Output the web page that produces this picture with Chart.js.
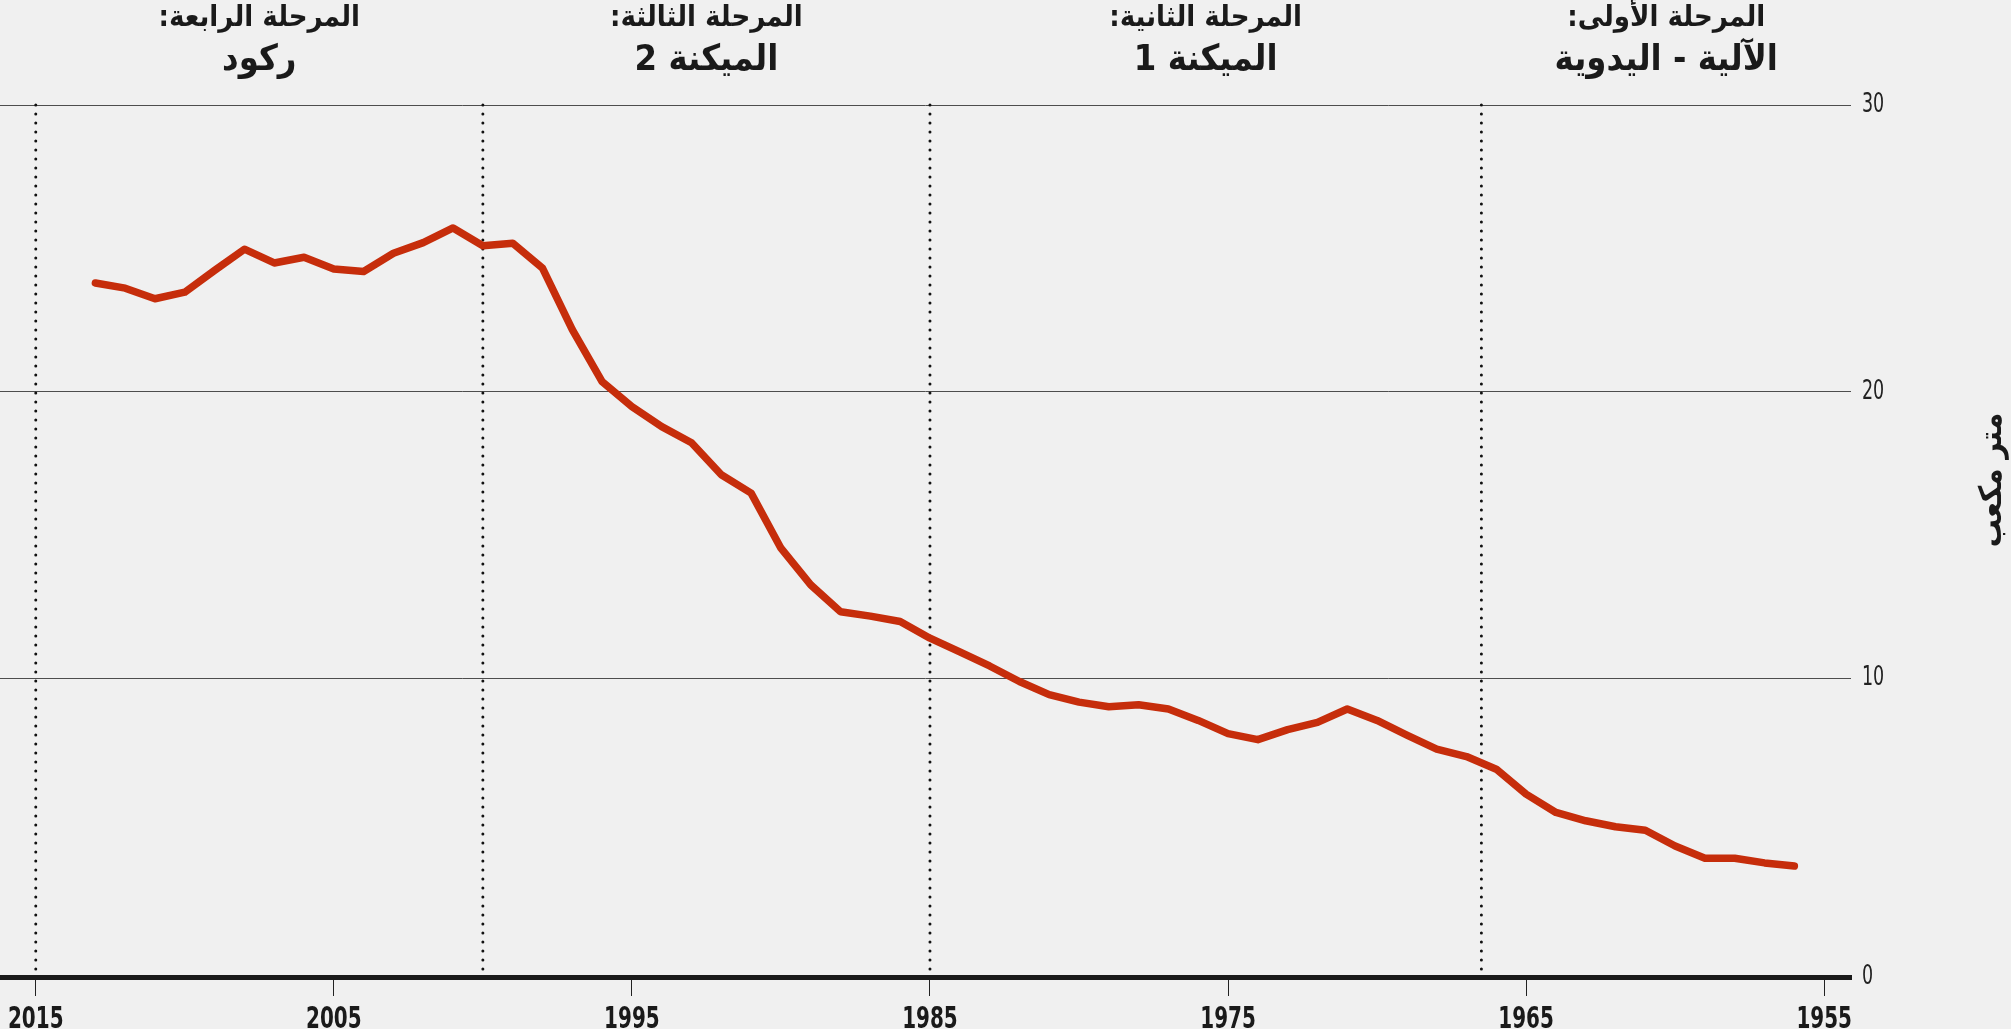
<!DOCTYPE html>
<html lang="ar">
<head>
<meta charset="utf-8">
<script src="https://cdn.jsdelivr.net/npm/chart.js@4.4.1/dist/chart.umd.min.js"></script>
<style>
html,body{margin:0;padding:0;background:#f0f0f0;}
#wrap{width:2011px;height:1029px;position:relative;}
canvas{display:block;}
</style>
</head>
<body>
<div id="wrap"><canvas id="c" width="2011" height="1029"></canvas></div>
<script>
// ---- data ----
const years = [1956,1957,1958,1959,1960,1961,1962,1963,1964,1965,1966,1967,1968,1969,1970,1971,1972,1973,1974,1975,1976,1977,1978,1979,1980,1981,1982,1983,1984,1985,1986,1987,1988,1989,1990,1991,1992,1993,1994,1995,1996,1997,1998,1999,2000,2001,2002,2003,2004,2005,2006,2007,2008,2009,2010,2011,2012,2013];
const values = [3.45,3.56,3.72,3.72,4.15,4.70,4.82,5.03,5.32,5.96,6.83,7.27,7.53,8.02,8.53,8.93,8.46,8.21,7.86,8.07,8.53,8.93,9.08,9.01,9.17,9.43,9.89,10.43,10.92,11.40,11.98,12.17,12.32,13.26,14.54,16.46,17.10,18.22,18.78,19.48,20.35,22.16,24.31,25.18,25.09,25.71,25.20,24.83,24.19,24.28,24.69,24.49,24.97,24.23,23.47,23.24,23.61,23.79];
const xTickValues = [2015, 2005, 1995, 1985, 1975, 1965, 1955];
const yTickValues = [0, 10, 20, 30];
const phaseBounds = [2015, 2000, 1985, 1966.5];
const phaseTitles = ['المرحلة الرابعة:', 'المرحلة الثالثة:', 'المرحلة الثانية:', 'المرحلة الأولى:'];
const phaseNames = ['ركود', 'الميكنة 2', 'الميكنة 1', 'الآلية - اليدوية'];
const yTitle = 'متر مكعب';

// ---- axis ranges ----
const X_MIN = 1954.1, X_MAX = 2016.2;
const Y_MIN = -0.42, Y_MAX = 30;

const BG = '#f0f0f0';
const LINE = '#c62d0b';
const NUM_FONT = '"DejaVu Sans Condensed", "DejaVu Sans", sans-serif';
const AR_FONT = '"DejaVu Sans Condensed", "DejaVu Sans", sans-serif';

const datasets = [{
  label: 'main',
  data: years.map((y, i) => ({x: y, y: values[i]})),
  borderColor: LINE,
  borderWidth: 7.5,
  borderCapStyle: 'round',
  borderJoinStyle: 'round',
  pointRadius: 0,
  tension: 0,
  fill: false,
  order: 0
}];
phaseBounds.forEach(b => {
  datasets.push({
    label: 'bound',
    data: [{x: b, y: Y_MAX}, {x: b, y: Y_MIN}],
    borderColor: '#111',
    borderWidth: 3,
    borderDash: [0, 9],
    borderCapStyle: 'round',
    pointRadius: 0,
    fill: false,
    clip: false,
    order: 1
  });
});

function condensedText(ctx, text, x, y, sx) {
  ctx.save();
  ctx.translate(x, y);
  ctx.scale(sx, 1);
  ctx.fillText(text, 0, 0);
  ctx.restore();
}

const bgPlugin = {
  id: 'bg',
  beforeDraw(chart) {
    const ctx = chart.ctx;
    ctx.save();
    ctx.fillStyle = BG;
    ctx.fillRect(0, 0, chart.width, chart.height);
    ctx.restore();
  }
};

const textPlugin = {
  id: 'texts',
  afterDraw(chart) {
    const ctx = chart.ctx;
    const xs = chart.scales.x;
    const ys = chart.scales.y;
    ctx.save();
    // x tick labels (condensed bold)
    ctx.fillStyle = '#1a1a1a';
    ctx.direction = 'ltr';
    ctx.textAlign = 'center';
    ctx.textBaseline = 'alphabetic';
    ctx.font = 'bold 30px ' + NUM_FONT;
    xs.ticks.forEach(t => {
      condensedText(ctx, String(t.value), xs.getPixelForValue(t.value), 1028, 0.74);
    });
    // y tick labels (condensed regular)
    ctx.fillStyle = '#222';
    ctx.textAlign = 'left';
    ctx.textBaseline = 'middle';
    ctx.font = '27px ' + NUM_FONT;
    ys.ticks.forEach(t => {
      const lbl = t.value === Y_MIN ? '0' : String(t.value);
      condensedText(ctx, lbl, chart.chartArea.right + 11, ys.getPixelForValue(t.value), 0.72);
    });
    // phase labels
    const edges = phaseBounds.map(v => xs.getPixelForValue(v)).concat([chart.chartArea.right]);
    ctx.fillStyle = '#1a1a1a';
    ctx.textAlign = 'center';
    ctx.textBaseline = 'middle';
    ctx.direction = 'rtl';
    for (let i = 0; i < phaseTitles.length; i++) {
      const cx = (edges[i] + edges[i + 1]) / 2;
      ctx.font = 'bold 29px ' + AR_FONT;
      ctx.fillText(phaseTitles[i], cx, 18);
      ctx.font = 'bold 36px ' + AR_FONT;
      ctx.fillText(phaseNames[i], cx, 61);
    }
    // y axis title, rotated
    ctx.translate(1993, 480);
    ctx.rotate(-Math.PI / 2);
    ctx.font = 'bold 31px ' + AR_FONT;
    ctx.fillText(yTitle, 0, 0);
    ctx.restore();
  }
};

new Chart(document.getElementById('c'), {
  type: 'line',
  data: {datasets},
  plugins: [bgPlugin, textPlugin],
  options: {
    responsive: false,
    animation: false,
    devicePixelRatio: 1,
    layout: {padding: {top: 105, left: 0, right: 0, bottom: 0}},
    plugins: {legend: {display: false}, tooltip: {enabled: false}},
    scales: {
      x: {
        type: 'linear',
        reverse: true,
        min: X_MIN,
        max: X_MAX,
        afterBuildTicks: s => { s.ticks = xTickValues.map(v => ({value: v})); },
        afterFit: s => { s.height = 52; },
        ticks: {display: false, autoSkip: false},
        grid: {drawOnChartArea: false, drawTicks: true, tickLength: 19, tickColor: '#222', tickWidth: 1},
        border: {display: true, width: 5, color: '#1a1a1a'}
      },
      y: {
        type: 'linear',
        position: 'right',
        min: Y_MIN,
        max: Y_MAX,
        afterBuildTicks: s => { s.ticks = yTickValues.map(v => ({value: v === 0 ? Y_MIN : v})); },
        afterFit: s => { s.width = 160; },
        ticks: {display: false, autoSkip: false},
        grid: {
          drawTicks: false,
          lineWidth: 1,
          color: ctx => (ctx.tick && ctx.tick.value === Y_MIN ? 'rgba(0,0,0,0)' : '#4d4d4d')
        },
        border: {display: false}
      }
    }
  }
});
</script>
</body>
</html>
